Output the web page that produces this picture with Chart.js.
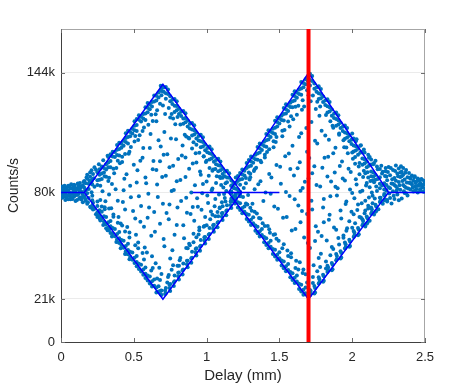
<!DOCTYPE html>
<html>
<head>
<meta charset="utf-8">
<script src="https://cdn.jsdelivr.net/npm/chart.js@4/dist/chart.umd.min.js"></script>
<style>
  html, body { margin: 0; padding: 0; background: #fff; }
</style>
</head>
<body>
<canvas id="delayChart" width="469" height="385"></canvas>
<script>
// axis ticks (y in thousands of counts/s)
var xTicks = [0, 0.5, 1, 1.5, 2, 2.5];
var xTickLabels = ['0', '0.5', '1', '1.5', '2', '2.5'];
var yTicks = [0, 23, 80, 144];
var yTickLabels = ['0', '21k', '80k', '144k'];
var yMax = 167.4;

// measured points, [delay mm, counts k/s]
var leftTail = [
  [0.00,78.5],[0.00,81.8],[0.00,79.9],[0.01,80.2],[0.01,77.2],[0.01,83.1],[0.02,77.9],[0.02,81.6],[0.02,79.0],
  [0.03,79.4],[0.03,82.7],[0.03,76.0],[0.04,76.8],[0.04,82.3],[0.04,80.5],[0.05,80.7],[0.05,76.3],[0.05,83.6],
  [0.06,78.1],[0.06,83.0],[0.06,79.8],[0.07,79.6],[0.07,84.4],[0.07,76.9],[0.08,76.5],[0.08,81.9],[0.08,79.3],
  [0.09,84.1],[0.09,77.8],[0.09,82.6],[0.10,78.8],[0.10,80.9],[0.10,75.4],[0.11,75.9],[0.11,82.0],[0.11,78.6],
  [0.12,82.8],[0.12,79.2],[0.12,84.2],[0.13,85.0],[0.13,77.3],[0.13,80.6],[0.14,80.4],[0.14,76.2],[0.14,83.1],
  [0.15,74.8],[0.15,83.7],[0.15,79.1],[0.16,86.1],[0.16,78.0],[0.16,82.5],[0.17,75.6],[0.17,81.2],[0.17,84.9],
  [0.18,87.3],[0.18,73.9],[0.18,79.5],[0.19,84.6],[0.19,77.0],[0.19,81.8],[0.20,88.4],[0.20,72.4],[0.21,80.1],
  [0.21,85.9],[0.22,74.5],[0.22,89.9],[0.23,71.2],[0.23,83.0],
  [0.005,80.7],[0.015,78.3],[0.025,83.6],[0.035,77.6],[0.045,81.1],[0.055,78.9],[0.065,82.1],[0.075,77.5],
  [0.085,80.3],[0.095,83.4],[0.105,79.1],[0.115,84.8],[0.125,76.6],[0.135,82.4],[0.145,79.7],[0.155,85.6],
  [0.165,76.9],[0.175,88.0],[0.185,74.7],[0.195,86.2],[0.205,71.9],[0.215,78.2],[0.225,87.6],[0.005,77.8],
  [0.025,80.8],[0.045,78.2],[0.065,76.4],[0.085,83.2],[0.105,81.7],[0.125,81.0],[0.145,77.5],[0.165,80.9]
];
var leftUpper = [
  [0.18,89.5],[0.20,90.7],[0.21,91.8],[0.23,93.4],[0.24,92.1],[0.26,95.0],[0.29,97.2],[0.32,99.6],
  [0.25,90.8],[0.25,86.5],[0.25,84.0],[0.28,93.9],[0.28,90.1],[0.28,87.2],[0.31,95.0],[0.31,92.3],
  [0.34,100.4],[0.34,96.8],[0.34,93.5],[0.37,101.6],[0.37,98.9],[0.40,106.5],[0.40,103.2],[0.40,99.8],
  [0.43,107.7],[0.43,104.9],[0.46,113.0],[0.46,109.6],[0.46,106.1],[0.49,114.1],[0.49,111.5],[0.52,119.2],
  [0.52,116.0],[0.52,112.8],[0.55,120.5],[0.55,117.9],[0.58,125.6],[0.58,122.2],[0.58,118.7],[0.61,127.0],
  [0.61,124.5],[0.64,131.9],[0.64,128.6],[0.67,133.5],[0.67,130.8],[0.69,135.9],[0.69,134.2],[0.69,132.0],
  [0.72,136.4],[0.72,133.0],[0.72,130.1],[0.75,131.4],[0.75,128.7],[0.78,129.9],[0.78,126.4],[0.78,123.0],
  [0.81,124.8],[0.81,121.9],[0.84,123.5],[0.84,119.6],[0.84,116.7],[0.87,118.5],[0.87,115.2],[0.90,117.1],
  [0.90,113.6],[0.90,110.4],[0.93,112.0],[0.93,108.9],[0.96,110.8],[0.96,107.3],[0.96,104.1],[0.99,105.6],
  [0.99,102.5],[1.02,104.5],[1.02,100.9],[1.02,97.6],[1.05,99.2],[1.05,96.4],[1.08,98.0],[1.08,94.5],
  [1.08,91.3],[1.11,92.7],[1.11,89.8],[1.14,91.6],[1.14,88.0],[1.14,85.5],[1.17,86.4],[1.17,83.7],
  [1.20,85.1],[1.20,82.0],[1.23,80.3],[1.23,78.6],
  [0.215,84.2],[0.215,87.0],[0.265,89.5],[0.265,92.4],[0.265,86.8],[0.295,93.1],[0.295,90.7],[0.325,96.0],
  [0.325,98.9],[0.325,93.4],[0.355,99.2],[0.355,101.7],[0.385,102.8],[0.385,105.3],[0.385,100.0],[0.415,106.0],
  [0.415,103.9],[0.445,109.1],[0.445,111.6],[0.445,107.0],[0.475,112.3],[0.475,110.1],[0.505,115.6],[0.505,118.0],
  [0.505,113.2],[0.535,118.9],[0.535,121.3],[0.565,122.0],[0.565,119.6],[0.595,125.3],[0.595,127.8],[0.595,122.9],
  [0.625,128.3],[0.625,126.0],[0.655,131.7],[0.655,129.2],[0.685,134.9],[0.685,137.0],[0.705,136.1],[0.705,133.8],
  [0.735,132.6],[0.735,135.0],[0.765,129.5],[0.765,127.3],[0.795,126.2],[0.795,128.7],[0.795,124.0],[0.825,123.1],
  [0.825,120.9],[0.855,119.8],[0.855,122.3],[0.855,117.5],[0.885,116.7],[0.885,114.2],[0.915,113.3],[0.915,115.9],
  [0.915,111.0],[0.945,110.2],[0.945,107.8],[0.975,107.0],[0.975,109.5],[0.975,104.6],[1.005,103.8],[1.005,101.5],
  [1.035,100.6],[1.035,103.1],[1.035,98.2],[1.065,97.4],[1.065,95.1],[1.095,94.2],[1.095,96.6],[1.095,91.8],
  [1.125,91.0],[1.125,88.7],[1.155,87.8],[1.155,90.2],[1.185,84.7],[1.185,82.4],[1.215,81.5]
];
var leftLower = [
  [0.22,70.9],[0.24,68.3],[0.26,67.9],[0.27,65.0],[0.29,62.6],[0.30,63.3],[0.32,59.7],[0.33,60.1],
  [0.35,56.4],[0.38,53.5],[0.41,50.1],[0.44,47.0],[0.47,44.2],
  [0.25,69.4],[0.25,72.8],[0.25,75.1],[0.25,66.9],[0.28,66.0],[0.28,69.7],[0.28,72.5],[0.31,63.0],
  [0.31,66.8],[0.31,60.9],[0.34,61.9],[0.34,64.7],[0.34,58.3],[0.37,56.6],[0.37,60.5],[0.40,55.5],
  [0.40,58.8],[0.40,52.9],[0.43,50.4],[0.43,54.1],[0.46,49.2],[0.46,52.6],[0.46,46.9],[0.49,44.0],
  [0.49,47.8],[0.52,42.8],[0.52,46.0],[0.52,40.5],[0.55,37.7],[0.55,41.3],[0.58,36.5],[0.58,39.9],
  [0.58,34.2],[0.61,31.3],[0.61,35.0],[0.64,30.1],[0.64,33.4],[0.67,27.0],[0.67,29.8],[0.69,25.1],
  [0.69,27.6],[0.72,26.1],[0.72,28.9],[0.75,27.3],[0.75,31.0],[0.78,32.5],[0.78,35.6],[0.81,33.4],
  [0.81,37.2],[0.84,38.8],[0.84,42.0],[0.87,40.0],[0.87,43.5],[0.90,45.1],[0.90,48.3],[0.93,46.3],
  [0.93,50.1],[0.96,51.5],[0.96,54.6],[0.99,52.7],[0.99,56.2],[1.02,57.8],[1.02,61.0],[1.05,59.0],
  [1.05,62.7],[1.08,64.2],[1.08,67.3],[1.11,65.3],[1.11,69.0],[1.14,70.5],[1.14,73.2],[1.17,71.7],
  [1.17,75.8],[1.20,76.9],[1.20,79.0],[1.23,78.0],
  [0.215,73.0],[0.215,75.8],[0.215,71.6],[0.265,67.7],[0.265,70.4],[0.265,66.0],[0.295,64.5],[0.295,67.3],
  [0.325,61.3],[0.325,64.0],[0.325,59.8],[0.355,58.2],[0.355,61.0],[0.385,55.0],[0.385,57.8],[0.385,53.6],
  [0.415,51.9],[0.415,54.6],[0.445,48.6],[0.445,51.4],[0.445,47.2],[0.475,45.5],[0.475,48.3],[0.505,42.3],
  [0.505,45.1],[0.535,39.1],[0.535,41.9],[0.565,36.0],[0.565,38.8],[0.595,32.9],[0.595,35.6],[0.625,29.7],
  [0.625,32.5],[0.655,26.5],[0.655,29.2],[0.685,25.6],[0.685,27.4],[0.715,25.7],[0.715,27.5],[0.745,28.9],
  [0.745,30.6],[0.775,32.0],[0.775,29.9],[0.805,35.2],[0.805,37.0],[0.835,38.4],[0.835,36.1],[0.865,41.6],
  [0.865,43.4],[0.895,44.8],[0.895,42.4],[0.925,47.9],[0.925,49.8],[0.955,51.1],[0.955,48.8],[0.985,54.3],
  [0.985,56.0],[1.015,57.5],[1.015,55.1],[1.045,60.6],[1.045,62.5],[1.075,63.8],[1.075,61.4],[1.105,67.0],
  [1.105,68.8],[1.135,70.1],[1.135,67.8],[1.165,73.3],[1.165,75.1],[1.195,76.5],[1.195,74.1],[1.225,79.6]
];
var leftBand = [
  [0.27,83.5],[0.33,87.9],[0.36,92.6],[0.42,96.3],[0.47,101.8],[0.53,108.1],[0.57,114.7],[0.63,118.2],
  [0.66,124.0],[0.68,127.4],[0.74,125.1],[0.77,119.5],[0.82,116.3],[0.86,109.9],[0.91,106.8],[0.95,101.2],
  [1.00,97.0],[1.04,91.6],[1.09,88.4],[1.13,84.9],[0.27,76.0],[0.33,71.4],[0.36,67.0],[0.42,62.3],
  [0.47,55.9],[0.53,50.2],[0.57,44.1],[0.63,39.6],[0.66,34.0],[0.68,33.2],[0.74,35.8],[0.77,41.0],
  [0.82,44.9],[0.86,50.3],[0.91,53.4],[0.95,59.8],[1.00,62.5],[1.04,68.0],[1.09,71.5],[1.13,75.1],
  [0.30,88.6],[0.30,71.0],[0.39,97.0],[0.39,63.8],[0.44,100.5],[0.44,59.1],[0.51,110.2],[0.51,51.7],
  [0.56,112.9],[0.56,47.6],[0.62,121.5],[0.62,38.2],[0.76,122.0],[0.76,38.6],[0.80,120.4],[0.80,40.8],
  [0.88,108.8],[0.88,52.6],[0.93,105.5],[0.93,56.0],[0.98,99.4],[0.98,61.7],[1.06,92.5],[1.06,67.2],
  [1.11,87.9],[1.11,72.6]
];
var leftInside = [
  [0.30,72.1],[0.31,88.4],[0.33,78.9],[0.35,84.5],[0.36,68.2],[0.38,93.0],[0.39,75.6],[0.41,63.4],
  [0.42,99.1],[0.43,81.2],[0.44,70.9],[0.45,89.7],[0.47,58.6],[0.48,104.3],[0.48,77.4],[0.50,94.8],
  [0.51,66.0],[0.52,85.3],[0.53,53.2],[0.54,110.6],[0.55,72.8],[0.56,98.5],[0.57,61.7],[0.58,88.0],
  [0.59,47.9],[0.60,116.2],[0.60,79.3],[0.61,103.7],[0.62,56.8],[0.63,92.4],[0.64,69.5],[0.65,121.8],
  [0.65,42.1],[0.66,84.2],[0.67,107.9],[0.68,63.3],[0.68,96.7],[0.69,36.4],[0.70,126.5],[0.70,74.0],
  [0.71,112.3],[0.71,51.2],[0.72,88.9],[0.73,31.8],[0.73,100.4],[0.74,65.7],[0.75,120.1],[0.75,44.6],
  [0.76,80.8],[0.77,94.2],[0.78,57.3],[0.79,108.5],[0.80,71.9],[0.81,40.8],[0.82,86.6],[0.83,99.7],
  [0.84,62.5],[0.85,110.9],[0.86,77.1],[0.87,50.2],[0.88,92.6],[0.89,68.4],[0.90,103.5],[0.91,57.9],
  [0.92,83.8],[0.93,96.0],[0.94,72.3],[0.95,61.2],[0.96,89.5],[0.97,79.6],[0.98,99.2],[0.99,66.9],
  [1.00,85.9],[1.01,74.4],[1.02,93.0],[1.03,69.8],[1.04,82.1],[1.06,76.5],[1.07,88.6],[1.09,72.0],
  [1.10,84.0],[1.12,79.2],
  [0.285,80.6],[0.305,75.3],[0.325,86.1],[0.345,71.5],[0.365,90.2],[0.375,81.7],[0.395,66.8],[0.405,95.6],
  [0.425,74.9],[0.435,87.3],[0.455,61.5],[0.465,100.7],[0.475,83.5],[0.495,70.1],[0.505,107.2],[0.515,57.4],
  [0.525,91.9],[0.535,78.0],[0.545,64.3],[0.565,103.8],[0.575,50.6],[0.585,84.9],[0.605,72.0],[0.615,111.3],
  [0.625,45.8],[0.635,96.8],[0.645,58.9],[0.655,118.0],[0.665,77.6],[0.675,39.7],[0.685,104.5],[0.695,88.3],
  [0.705,55.1],[0.715,121.9],[0.725,69.0],[0.735,34.8],[0.745,93.5],[0.755,108.8],[0.765,49.1],[0.775,81.3],
  [0.785,116.4],[0.795,62.6],[0.805,97.9],[0.815,43.7],[0.825,75.4],[0.835,105.1],[0.845,55.5],[0.855,88.2],
  [0.865,69.1],[0.875,109.3],[0.885,51.7],[0.895,80.0],[0.905,95.4],[0.915,64.8],[0.925,101.0],[0.935,76.9],
  [0.945,57.5],[0.955,91.2],[0.965,70.7],[0.975,84.5],[0.985,62.0],[0.995,96.3],[1.005,78.4],[1.015,88.9],
  [1.025,65.6],[1.035,81.1],[1.045,92.3],[1.055,72.6],[1.065,85.0],[1.075,69.5],[1.085,78.9],[1.095,87.7],
  [1.105,74.8],[1.115,82.6],[1.125,77.0],[1.135,80.8],[0.545,97.0],[0.595,66.4],[0.655,92.0],[0.705,100.1],
  [0.745,73.6],[0.795,86.0],[0.855,98.7],[0.905,72.2]
];
var rightUpper = [
  [1.17,83.4],[1.17,80.5],[1.20,84.6],[1.20,88.0],[1.23,90.4],[1.23,86.9],[1.23,84.1],[1.26,91.6],
  [1.26,89.0],[1.29,97.4],[1.29,93.8],[1.29,90.6],[1.32,98.6],[1.32,95.9],[1.35,104.3],[1.35,100.8],
  [1.35,97.5],[1.38,105.6],[1.38,102.7],[1.41,111.2],[1.41,107.9],[1.41,104.4],[1.44,112.5],[1.44,109.7],
  [1.47,118.3],[1.47,114.6],[1.47,111.3],[1.50,119.5],[1.50,116.8],[1.53,125.1],[1.53,121.9],[1.53,118.4],
  [1.56,126.5],[1.56,123.6],[1.59,132.2],[1.59,128.7],[1.59,125.5],[1.62,133.4],[1.62,130.6],[1.65,139.0],
  [1.65,135.6],[1.65,132.3],[1.68,140.5],[1.68,137.8],[1.71,143.4],[1.71,140.1],[1.71,137.2],[1.74,138.2],
  [1.74,135.5],[1.77,136.8],[1.77,133.0],[1.77,129.9],[1.80,131.3],[1.80,128.4],[1.83,129.8],[1.83,126.1],
  [1.83,122.8],[1.86,124.3],[1.86,121.0],[1.89,122.8],[1.89,119.2],[1.89,115.6],[1.92,117.3],[1.92,114.5],
  [1.95,115.8],[1.95,112.0],[1.95,108.7],[1.98,110.3],[1.98,107.4],[2.01,108.8],[2.01,105.1],[2.01,101.9],
  [2.04,103.3],[2.04,100.2],[2.07,101.8],[2.07,98.1],[2.07,94.8],[2.10,96.4],[2.10,93.5],[2.13,94.9],
  [2.13,91.2],[2.13,88.6],[2.16,89.3],[2.16,86.8],[2.19,88.1],[2.19,84.7],[2.19,82.2],[2.22,84.9],
  [2.22,81.6],
  [2.00,111.5],[2.03,108.4],[2.06,105.2],[2.08,103.0],[2.11,100.1],[2.12,99.0],[2.13,97.6],[2.15,95.8],
  [2.16,96.9],[2.17,93.9],[2.19,92.5],[2.20,94.2],[2.21,91.0],[2.23,93.0],
  [1.185,82.7],[1.185,85.3],[1.215,86.1],[1.215,88.8],[1.245,89.6],[1.245,92.3],[1.245,87.2],[1.275,93.1],
  [1.275,95.8],[1.305,96.6],[1.305,99.2],[1.305,94.3],[1.335,100.1],[1.335,97.8],[1.365,103.6],[1.365,106.2],
  [1.365,101.3],[1.395,107.1],[1.395,104.8],[1.425,110.6],[1.425,113.2],[1.425,108.3],[1.455,114.1],[1.455,111.8],
  [1.485,117.6],[1.485,120.2],[1.485,115.3],[1.515,121.0],[1.515,118.7],[1.545,124.5],[1.545,127.2],[1.545,122.2],
  [1.575,128.0],[1.575,125.7],[1.605,131.5],[1.605,134.1],[1.605,129.2],[1.635,135.0],[1.635,132.7],[1.665,138.5],
  [1.665,136.2],[1.695,141.9],[1.695,139.6],[1.725,139.6],[1.725,142.2],[1.755,136.1],[1.755,133.8],[1.785,132.6],
  [1.785,135.3],[1.785,130.3],[1.815,129.1],[1.815,126.8],[1.845,125.6],[1.845,128.3],[1.845,123.3],[1.875,122.1],
  [1.875,119.8],[1.905,118.6],[1.905,121.3],[1.905,116.3],[1.935,115.1],[1.935,112.8],[1.965,111.7],[1.965,114.4],
  [1.965,109.4],[1.995,108.2],[1.995,105.9],[2.025,104.7],[2.025,107.4],[2.025,102.4],[2.055,101.2],[2.055,104.9],
  [2.085,97.7],[2.085,101.3],[2.085,95.4],[2.115,94.2],[2.115,98.6],[2.145,90.7],[2.145,95.1],[2.145,88.4],
  [2.175,87.2],[2.175,92.4],[2.205,83.7],[2.205,90.1],[2.235,80.9],[2.235,88.5]
];
var rightLower = [
  [1.17,76.8],[1.17,79.5],[1.20,75.9],[1.20,78.1],[1.23,70.6],[1.23,74.2],[1.26,69.7],[1.26,72.5],
  [1.29,64.4],[1.29,68.0],[1.32,63.5],[1.32,66.7],[1.35,58.1],[1.35,61.6],[1.38,57.2],[1.38,60.4],
  [1.41,51.9],[1.41,55.5],[1.44,51.0],[1.44,54.2],[1.47,45.7],[1.47,49.3],[1.50,44.8],[1.50,48.0],
  [1.53,39.5],[1.53,43.1],[1.56,38.5],[1.56,41.7],[1.59,33.2],[1.59,36.8],[1.62,32.3],[1.62,35.5],
  [1.65,27.0],[1.65,30.6],[1.68,26.1],[1.68,29.2],[1.71,25.0],[1.71,27.8],[1.74,26.0],[1.74,29.9],
  [1.77,31.3],[1.77,34.6],[1.80,32.2],[1.80,36.0],[1.83,37.5],[1.83,40.8],[1.86,38.4],[1.86,42.3],
  [1.89,43.7],[1.89,47.0],[1.92,44.6],[1.92,48.5],[1.95,50.0],[1.95,53.2],[1.98,50.9],[1.98,54.7],
  [2.01,56.2],[2.01,59.4],[2.04,57.1],[2.04,61.0],[2.07,62.4],[2.07,65.6],[2.10,63.3],[2.10,67.1],
  [2.13,68.6],[2.13,71.9],[2.16,69.6],[2.16,73.4],[2.19,74.9],[2.19,77.2],[2.22,75.8],[2.22,79.1],
  [2.09,61.8],[2.12,64.9],[2.15,68.2],[2.18,71.0],[2.21,73.9],[2.24,76.0],
  [1.185,75.1],[1.185,77.9],[1.215,72.0],[1.215,74.8],[1.245,68.9],[1.245,71.6],[1.275,65.8],[1.275,68.5],
  [1.305,62.6],[1.305,65.4],[1.335,59.5],[1.335,62.3],[1.365,56.4],[1.365,59.2],[1.395,53.3],[1.395,56.1],
  [1.425,50.2],[1.425,53.0],[1.455,47.1],[1.455,49.8],[1.485,44.0],[1.485,46.7],[1.515,40.9],[1.515,43.6],
  [1.545,37.8],[1.545,40.5],[1.575,34.6],[1.575,37.4],[1.605,31.5],[1.605,34.3],[1.635,28.4],[1.635,31.2],
  [1.665,25.3],[1.665,28.0],[1.695,24.6],[1.715,25.8],[1.715,27.3],[1.745,28.9],[1.745,26.5],[1.775,32.0],
  [1.775,33.6],[1.805,35.1],[1.805,32.7],[1.835,38.2],[1.835,39.8],[1.865,41.3],[1.865,38.9],[1.895,44.4],
  [1.895,46.0],[1.925,47.6],[1.925,45.2],[1.955,50.7],[1.955,52.3],[1.985,53.8],[1.985,51.4],[2.015,56.9],
  [2.015,58.5],[2.045,60.0],[2.045,57.6],[2.075,63.1],[2.075,64.7],[2.105,66.2],[2.105,63.8],[2.135,69.4],
  [2.135,71.0],[2.165,72.5],[2.165,70.1],[2.195,75.6],[2.195,77.2],[2.225,78.7],[2.225,76.3]
];
var rightBand = [
  [1.27,87.7],[1.27,74.1],[1.33,92.4],[1.33,69.6],[1.37,96.9],[1.37,66.0],[1.43,103.1],[1.43,60.3],
  [1.48,109.6],[1.48,55.2],[1.52,113.0],[1.52,50.1],[1.58,120.7],[1.58,45.3],[1.61,125.8],[1.61,39.6],
  [1.66,129.3],[1.66,36.9],[1.69,134.6],[1.69,31.8],[1.30,90.0],[1.30,71.8],[1.40,100.2],[1.40,62.0],
  [1.46,107.3],[1.46,57.4],[1.56,117.9],[1.56,46.0],[1.63,126.4],[1.63,38.8],
  [1.73,131.9],[1.73,34.7],[1.78,126.0],[1.78,40.1],[1.82,121.4],[1.82,43.0],[1.87,114.6],[1.87,49.8],
  [1.91,111.5],[1.91,52.2],[1.96,104.0],[1.96,59.5],[2.00,101.3],[2.00,61.1],[2.05,95.7],[2.05,66.9],
  [2.09,90.2],[2.09,70.3],[2.14,86.4],[2.14,74.2],[1.76,128.5],[1.76,37.9],[1.85,118.0],[1.85,46.4],
  [1.94,107.9],[1.94,55.7],[2.02,98.9],[2.02,63.5],[2.11,88.0],[2.11,72.9]
];
var rightInside = [
  [1.22,80.4],[1.25,77.5],[1.27,84.9],[1.28,73.6],[1.30,88.1],[1.31,70.2],[1.33,81.7],[1.34,93.2],
  [1.36,66.3],[1.37,86.0],[1.39,75.4],[1.40,98.7],[1.42,62.0],[1.43,89.9],[1.44,79.3],[1.46,104.1],
  [1.47,57.6],[1.48,94.6],[1.49,71.2],[1.51,84.7],[1.52,110.0],[1.53,52.3],[1.54,99.4],[1.55,66.8],
  [1.57,115.3],[1.57,78.1],[1.58,47.5],[1.59,104.9],[1.60,89.0],[1.61,60.4],[1.62,121.5],[1.63,73.0],
  [1.64,42.7],[1.64,96.2],[1.65,111.6],[1.66,82.4],[1.67,55.9],[1.67,126.0],[1.68,36.2],[1.69,101.8],
  [1.69,68.5],[1.70,132.0],[1.70,87.4],[1.71,50.3],[1.72,117.7],[1.72,75.5],[1.73,31.6],[1.74,94.0],
  [1.75,61.9],[1.75,124.6],[1.76,106.2],[1.77,44.9],[1.78,83.1],[1.79,113.0],[1.79,56.7],[1.80,72.0],
  [1.81,98.6],[1.82,39.3],[1.83,88.5],[1.84,108.2],[1.84,65.4],[1.85,77.9],[1.86,50.8],[1.87,101.0],
  [1.88,90.7],[1.89,60.1],[1.90,82.2],[1.91,110.8],[1.92,70.3],[1.93,96.5],[1.94,57.0],[1.95,86.4],
  [1.96,75.2],[1.97,100.9],[1.98,64.6],[1.99,90.9],[2.00,79.7],[2.01,68.3],[2.02,95.3],[2.03,84.2],
  [2.04,73.5],[2.05,89.7],[2.06,66.6],[2.07,80.9],[2.08,91.6],[2.09,75.6],[2.10,85.1],[2.11,71.4],
  [2.12,82.8],[2.14,78.2],[2.15,85.4],[2.17,80.7],
  [1.255,82.3],[1.285,78.6],[1.295,86.9],[1.315,74.0],[1.325,91.5],[1.345,68.7],[1.355,84.4],[1.375,96.1],
  [1.385,63.5],[1.405,79.9],[1.415,101.6],[1.435,58.4],[1.445,88.0],[1.465,72.5],[1.475,106.9],[1.495,54.1],
  [1.505,93.7],[1.525,66.4],[1.535,113.4],[1.545,80.2],[1.555,48.9],[1.565,100.8],[1.585,59.6],[1.595,119.1],
  [1.605,76.3],[1.615,43.5],[1.625,92.9],[1.635,109.7],[1.645,64.0],[1.655,124.2],[1.665,38.8],[1.675,85.7],
  [1.685,114.5],[1.695,52.9],[1.705,98.4],[1.715,128.7],[1.725,70.8],[1.735,41.1],[1.745,107.6],[1.755,84.0],
  [1.765,59.0],[1.775,121.0],[1.785,47.2],[1.795,93.2],[1.805,76.5],[1.815,110.4],[1.825,54.3],[1.835,99.1],
  [1.845,68.0],[1.855,85.9],[1.865,115.6],[1.875,61.2],[1.885,103.9],[1.895,78.3],[1.905,55.6],[1.915,94.1],
  [1.925,66.1],[1.935,87.4],[1.945,104.2],[1.955,73.8],[1.965,60.9],[1.975,92.7],[1.985,81.5],[1.995,69.7],
  [2.005,98.0],[2.015,76.9],[2.025,87.1],[2.035,70.6],[2.045,93.8],[2.055,80.4],[2.065,74.2],[2.075,88.3],
  [2.085,68.9],[2.095,83.7],[2.105,90.8],[2.115,77.3],[2.125,86.1],[2.135,80.0],[2.155,76.8],[2.165,83.2],
  [1.575,92.5],[1.655,70.0],[1.725,90.3],[1.805,64.1],[1.885,83.0],[1.745,54.0],[1.645,80.9]
];
var rightTail = [
  [2.22,78.4],[2.23,91.3],[2.24,75.2],[2.24,86.5],[2.25,82.7],[2.25,93.6],[2.26,77.0],[2.26,89.2],
  [2.27,84.8],[2.27,74.1],[2.28,92.0],[2.28,80.6],[2.28,84.6],[2.29,87.7],[2.29,76.5],[2.30,94.4],
  [2.30,83.3],[2.30,86.2],[2.31,90.1],[2.31,78.9],[2.32,85.6],[2.32,92.8],[2.32,75.8],[2.33,81.4],
  [2.33,88.3],[2.34,76.8],[2.34,91.0],[2.35,84.0],[2.35,89.5],[2.35,93.1],[2.36,79.7],[2.36,86.9],
  [2.37,92.0],[2.37,82.5],[2.38,88.1],[2.38,78.3],[2.39,85.2],[2.39,90.4],[2.40,81.6],[2.40,87.3],
  [2.41,84.4],[2.41,89.1],[2.42,80.5],[2.42,86.2],[2.43,83.1],[2.43,88.6],[2.44,81.7],[2.44,85.8],
  [2.45,79.9],[2.45,87.4],[2.46,83.6],[2.46,86.3],[2.47,81.0],[2.47,84.9],[2.48,82.6],[2.48,86.8],
  [2.49,80.3],[2.49,84.1],[2.50,82.0],[2.50,85.4],
  [2.225,88.8],[2.235,84.0],[2.245,90.9],[2.255,79.4],[2.265,93.0],[2.275,87.0],[2.285,78.2],[2.295,91.4],
  [2.305,80.9],[2.315,88.7],[2.325,83.9],[2.335,94.0],[2.345,86.1],[2.355,80.6],[2.365,90.5],[2.375,85.3],
  [2.385,82.1],[2.395,87.9],[2.405,84.8],[2.415,82.6],[2.425,88.0],[2.435,85.1],[2.445,83.4],[2.455,86.9],
  [2.465,81.6],[2.475,87.2],[2.485,83.9],[2.495,86.1],[2.31,82.0],[2.34,88.7],[2.37,79.6],[2.40,85.0],
  [2.43,80.9],[2.46,84.4],[2.26,82.2],[2.29,84.0],[2.33,90.6],[2.36,83.2]
];

// fitted outlines
var leftDiamond = [[0, 80], [0.16, 80], [0.70, 137.8], [1.24, 80], [0.70, 22.9], [0.16, 80]];
var rightDiamond = [[2.5, 80], [2.25, 80], [1.70, 144], [1.15, 80], [1.70, 22.9], [2.25, 80]];
var midSegment = [[0.905, 80], [1.5, 80]];
var markerX = 1.7;

function toXY(list) {
  return list.map(function (p) { return { x: p[0], y: p[1] }; });
}

var allPoints = [].concat(leftTail, leftUpper, leftLower, leftBand, leftInside,
  rightUpper, rightLower, rightBand, rightInside, rightTail);

// box on top/right plus inward tick marks, like the original axes
var axesFrame = {
  id: 'axesFrame',
  beforeDatasetsDraw: function (chart) {
    var ctx = chart.ctx, a = chart.chartArea;
    var xs = chart.scales.x, ys = chart.scales.y;
    ctx.save();
    ctx.lineWidth = 1;
    ctx.strokeStyle = '#a6a6a6';
    ctx.beginPath();
    ctx.moveTo(a.left, a.top + 0.5); ctx.lineTo(a.right, a.top + 0.5);
    ctx.moveTo(a.right - 0.5, a.top); ctx.lineTo(a.right - 0.5, a.bottom);
    ctx.stroke();
    ctx.strokeStyle = '#6e6e6e';
    ctx.beginPath();
    xTicks.forEach(function (v) {
      var px = Math.round(xs.getPixelForValue(v)) + 0.5;
      ctx.moveTo(px, a.bottom); ctx.lineTo(px, a.bottom - 4);
      ctx.moveTo(px, a.top); ctx.lineTo(px, a.top + 4);
    });
    yTicks.forEach(function (v) {
      var py = Math.round(ys.getPixelForValue(v)) + 0.5;
      ctx.moveTo(a.left, py); ctx.lineTo(a.left + 4, py);
      ctx.moveTo(a.right, py); ctx.lineTo(a.right - 4, py);
    });
    ctx.stroke();
    ctx.restore();
  }
};

var ctx = document.getElementById('delayChart').getContext('2d');
var delayChart = new Chart(ctx, {
  type: 'scatter',
  data: {
    datasets: [
      {
        data: [{ x: markerX, y: 0 }, { x: markerX, y: yMax }],
        showLine: true, borderColor: '#ff0000', borderWidth: 4,
        pointRadius: 0, order: 0
      },
      {
        data: toXY(leftDiamond), showLine: true, borderColor: '#0000ff',
        borderWidth: 1.5, pointRadius: 0, order: 1
      },
      {
        data: toXY(rightDiamond), showLine: true, borderColor: '#0000ff',
        borderWidth: 1.5, pointRadius: 0, order: 1
      },
      {
        data: toXY(midSegment), showLine: true, borderColor: '#0000ff',
        borderWidth: 1.5, pointRadius: 0, order: 1
      },
      {
        data: toXY(allPoints), backgroundColor: '#0072bd', borderWidth: 0,
        pointRadius: 2, order: 2
      }
    ]
  },
  options: {
    responsive: false,
    animation: false,
    devicePixelRatio: 1,
    layout: { padding: { left: 0, top: 29, right: 44, bottom: 0 } },
    plugins: { legend: { display: false }, tooltip: { enabled: false } },
    scales: {
      x: {
        type: 'linear', min: 0, max: 2.5,
        afterBuildTicks: function (scale) { scale.ticks = xTicks.map(function (v) { return { value: v }; }); },
        afterFit: function (scale) { scale.height = 43; },
        grid: { display: false, drawTicks: false },
        border: { color: '#404040', width: 1 },
        ticks: {
          autoSkip: false, maxRotation: 0, padding: 8, color: '#262626',
          font: { family: 'Liberation Sans, Arial, sans-serif', size: 13 },
          callback: function (v, i) { return xTickLabels[i]; }
        },
        title: {
          display: true, text: 'Delay (mm)', color: '#262626',
          font: { family: 'Liberation Sans, Arial, sans-serif', size: 15 },
          padding: { top: 0, bottom: 0 }
        }
      },
      y: {
        type: 'linear', min: 0, max: yMax,
        afterBuildTicks: function (scale) { scale.ticks = yTicks.map(function (v) { return { value: v }; }); },
        afterFit: function (scale) { scale.width = 61; },
        grid: {
          drawTicks: false,
          color: function (c) { return c.tick && c.tick.value === 0 ? 'rgba(0,0,0,0)' : '#ebebeb'; }
        },
        border: { color: '#404040', width: 1 },
        ticks: {
          autoSkip: false, padding: 6, color: '#262626',
          font: { family: 'Liberation Sans, Arial, sans-serif', size: 13 },
          callback: function (v, i) { return yTickLabels[i]; }
        },
        title: {
          display: true, text: 'Counts/s', color: '#262626',
          font: { family: 'Liberation Sans, Arial, sans-serif', size: 14 },
          padding: { top: 6, bottom: 0 }
        }
      }
    }
  },
  plugins: [axesFrame]
});
</script>
</body>
</html>
